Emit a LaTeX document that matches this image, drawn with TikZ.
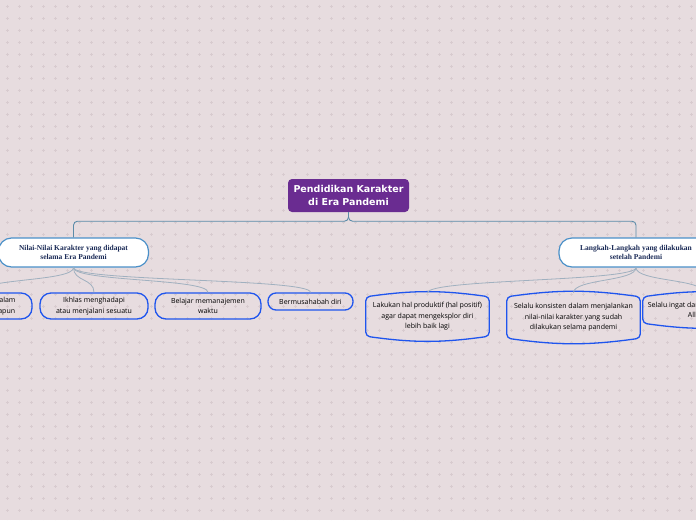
\documentclass[tikz,border=0pt]{standalone}
\usepackage{fontspec}
\usepackage{xcolor}
\usepackage{tikz}
\usetikzlibrary{calc}

\newfontfamily\rootfont{DejaVu Sans}
\newfontfamily\branchfont{Liberation Serif}
\newfontfamily\leaffont{Open Sans}

\definecolor{paper}{HTML}{E7DCDF}
\definecolor{speck}{HTML}{D8CBCF}
\definecolor{rootfill}{HTML}{6A2C91}
\definecolor{trunkline}{HTML}{5B8BA8}
\definecolor{branchline}{HTML}{4A90C8}
\definecolor{branchtext}{HTML}{1B2B57}
\definecolor{twigline}{HTML}{A0B0BF}
\definecolor{leafline}{HTML}{1F55EE}

% barrel outline round a leaf node
\newcommand\tubline[1]{%
  \draw[leafline, line width=1.3pt, rounded corners=4pt]
    ($(#1.north west)+(0,4)$) to[bend left=8] ($(#1.north east)+(0,4)$)
    -- ($(#1.south east)+(0,-4)$) to[bend left=8] ($(#1.south west)+(0,-4)$) -- cycle;}

\begin{document}
\begin{tikzpicture}[x=1pt, y=-1pt,
  root/.style={fill=rootfill, rounded corners=4pt, text=white,
    font=\rootfont\bfseries\fontsize{9.5}{12.5}\selectfont, align=center,
    minimum width=121pt, minimum height=33pt, inner sep=0pt},
  branch/.style={draw=branchline, line width=1.2pt, fill=white, rounded corners=13pt,
    text=branchtext, font=\branchfont\bfseries\fontsize{7.5}{9}\selectfont, align=center,
    minimum height=29pt, inner sep=0pt},
  leaf/.style={draw=leafline, line width=1.3pt, rounded corners=11pt,
    font=\leaffont\fontsize{7}{10.5}\selectfont, align=center, inner sep=0pt},
  tub/.style={font=\leaffont\fontsize{7}{10.5}\selectfont, align=center, inner sep=0pt},
  trunk/.style={draw=trunkline, line width=0.9pt, rounded corners=4pt},
  twig/.style={draw=twigline, line width=0.8pt}
]
\useasboundingbox (0,0) rectangle (696,520);
\fill[paper] (0,0) rectangle (696,520);
\draw[speck, line width=0.5pt] \foreach \i in {0,...,57} { \foreach \j in {0,...,43} {
  (5.5+12*\i, 6+12*\j) -- ++(3,0) ++(-1.5,-1.5) -- ++(0,3) } };

\begin{scope}
    \node[root] (root) at (348.5, 195.5) {Pendidikan Karakter\\di Era Pandemi};
    % branch
    \node[branch, minimum width=150pt] (left) at (73.5, 252.5) {Nilai-Nilai Karakter yang didapat\\selama Era Pandemi};
    \node[branch, minimum width=154pt] (right) at (636, 252.5) {Langkah-Langkah yang dilakukan\\setelah Pandemi};
    % leaves
    \node[leaf, minimum width=108pt, minimum height=26pt] (c1) at (-22, 306) {Tetap bersyukur dalam\\kondisi bagaimanapun};
    \node[leaf, minimum width=108pt, minimum height=26pt] (c2) at (94, 306) {Ikhlas menghadapi\\atau menjalani sesuatu};
    \node[leaf, minimum width=106pt, minimum height=26pt] (c3) at (208, 306) {Belajar memanajemen\\waktu};
    \node[leaf, minimum width=85pt, minimum height=17pt, rounded corners=8pt] (c4) at (310.5, 301.5) {Bermusahabah diri};
    % leaves
    \node[tub, minimum width=123pt, minimum height=47pt] (r1) at (427.5, 316.5) {Lakukan hal produktif (hal positif)\\agar dapat mengeksplor diri\\lebih baik lagi};
    \node[tub, minimum width=133pt, minimum height=49pt] (r2) at (573.5, 317.5) {Selalu konsisten dalam menjalankan\\nilai-nilai karakter yang sudah\\dilakukan selama pandemi};
    \node[tub, minimum width=122pt, minimum height=34pt] (r3) at (704, 310) {Selalu ingat dan bersyukur kepada\\Allah SWT};
\end{scope}

\tubline{r1}
\tubline{r2}
\tubline{r3}

\begin{scope}
    \draw[trunk] (root.south) -- ++(0,9) -| (left.north);
    \draw[trunk] (root.south) -- ++(0,9) -| (right.north);
    % branch
    \foreach \c in {c1,c2,c3,c4}
      \draw[twig] (left.south) .. controls +(0,14) and +(0,-14) .. (\c.north);
    % branch
    \foreach \c in {r1,r2,r3}
      \draw[twig] (right.south) .. controls +(0,14) and +(0,-14) .. (\c.north);
\end{scope}
\end{tikzpicture}
\end{document}
